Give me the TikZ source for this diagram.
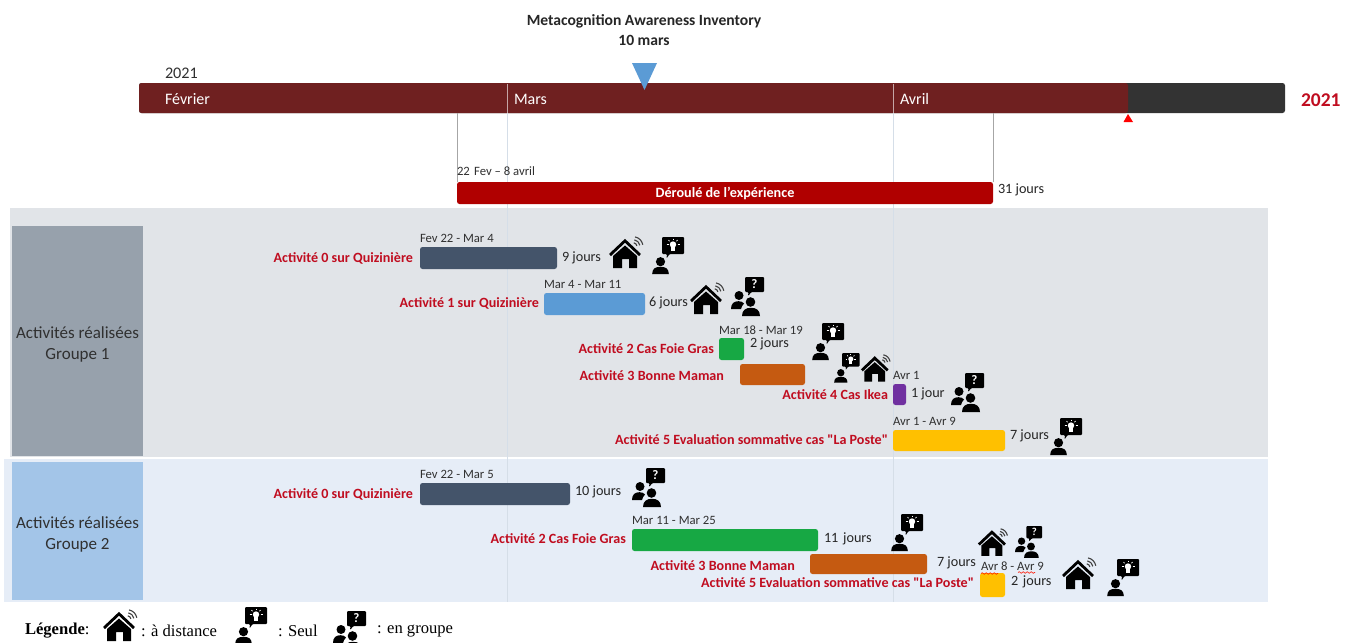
\documentclass[tikz,border=0pt]{standalone}
\usepackage{fontspec}
\setmainfont{Carlito}
\newfontfamily\plainq{Carlito}
\newfontfamily\legendfont{Liberation Serif}
\usetikzlibrary{decorations.pathmorphing}
\definecolor{tlred}{HTML}{6F2020}
\definecolor{tldark}{HTML}{333333}
\definecolor{labred}{HTML}{C00D20}
\definecolor{txtgray}{HTML}{303030}
\definecolor{bandA}{HTML}{E1E4E8}
\definecolor{bandB}{HTML}{E6EDF7}
\definecolor{sideA}{HTML}{97A1AC}
\definecolor{sideB}{HTML}{A3C5E8}
\definecolor{gridline}{HTML}{D5DEE8}
\definecolor{slate}{HTML}{44546A}
\definecolor{skyblue}{HTML}{5B9BD5}
\definecolor{leaf}{HTML}{17A844}
\definecolor{rust}{HTML}{C55A11}
\definecolor{violet}{HTML}{7030A0}
\definecolor{amber}{HTML}{FFC000}
\definecolor{expred}{HTML}{B00000}
\tikzset{
  x=1pt,y=-1pt,
  every node/.style={inner sep=0pt,outer sep=0pt},
  boxshape/.style={rectangle,anchor=north west,draw=none},
  taskbar/.style={boxshape,rounded corners=2.5pt},
  tasklabel/.style={anchor=east,text=labred,font=\fontsize{14.1}{16}\selectfont\bfseries},
  datelabel/.style={anchor=west,text=txtgray,font=\fontsize{12.7}{14}\selectfont},
  durlabel/.style={anchor=west,text=black!85,font=\fontsize{14.2}{16}\selectfont},
  monthlabel/.style={anchor=west,text=white,font=\fontsize{16}{18}\selectfont},
  sidelabel/.style={align=center,text=txtgray,yshift=-3pt,font=\fontsize{17}{21}\selectfont},
  legendtext/.style={anchor=west,font=\legendfont\fontsize{16.6}{18}\selectfont},
  icohouse/.pic={
    \draw[line width=2.8pt,miter limit=10] (1,19) -- (16,4.8) -- (31,19);
    \fill (4,20) -- (16,9.5) -- (28,20) -- (28,32) -- (20,32) -- (20,23) -- (13,23) -- (13,32) -- (4,32) -- cycle;
    \foreach \r in {4,7,10}{
      \draw[line width=1.1pt,black!75] ({24+.2*\r},{10.7-.98*\r}) .. controls ({24+.62*\r},{10.7-.88*\r}) and ({24+.88*\r},{10.7-.62*\r}) .. ({24+.98*\r},{10.7-.2*\r});
    }
  },
  icosolo/.pic={
    \fill[rounded corners=1pt] (10,0) -- (32,0) -- (32,17) -- (17.5,17) -- (14.5,21.5) -- (15,17) -- (10,17) -- cycle;
    \fill[white] (21,7.5) circle (3.2);
    \fill[white] (19.3,10) rectangle (22.7,13.5);
    \foreach \a/\b/\c/\d in {14.5/7.5/16.5/7.5,25.5/7.5/27.5/7.5,21/1.5/21/3,16.5/3/17.6/4.2,25.5/3/24.4/4.2}{
      \draw[white,line width=.7pt] (\a,\b) -- (\c,\d);
    }
    \fill (8.5,24.7) circle (4.6);
    \fill (0.2,37) .. controls (0.2,31.5) and (3.5,29.8) .. (8.5,29.8) .. controls (13.5,29.8) and (16.8,31.5) .. (16.8,37) -- cycle;
  },
  icogroup/.pic={
    \fill[rounded corners=1pt] (14,0) -- (33,0) -- (33,15) -- (20.5,15) -- (17,19) -- (17.5,15) -- (14,15) -- cycle;
    \node[white,transform shape,font=\fontsize{13}{13}\selectfont\bfseries] (q) at (23.5,7.5) {?};
    \fill (8,18.5) circle (4.5);
    \fill (0,32) .. controls (0,26.5) and (3,24.2) .. (7.5,24.2) .. controls (10,24.2) and (12,25) .. (13,26.5) .. controls (11.5,28) and (10.5,30) .. (10,32) -- cycle;
    \fill (19.5,25) circle (4.8);
    \fill (11,39) .. controls (11,33) and (15,30.8) .. (20,30.8) .. controls (25,30.8) and (29,33) .. (29,39) -- cycle;
  }
}
\newcommand{\boxnode}[7]{%
  \pgfmathsetlengthmacro{\bw}{(#5-#3)*1pt}%
  \pgfmathsetlengthmacro{\bh}{(#6-#4)*1pt}%
  \node[#1,fill=#7,minimum width=\bw,minimum height=\bh] (#2) at (#3,#4) {};%
}
\begin{document}
\begin{tikzpicture}
\clip (0,0) rectangle (1353,643);
\fill[white] (0,0) rectangle (1353,643);
% bands
\boxnode{boxshape}{bandone}{10}{208}{1268}{457}{bandA}
\boxnode{boxshape}{bandtwo}{4}{459}{1268}{602}{bandB}
\boxnode{boxshape}{sideone}{12}{226}{143}{456}{sideA}
\boxnode{boxshape}{sidetwo}{12}{462}{143}{600}{sideB}
\node[sidelabel] (sidetxtone) at (sideone.center) {Activités réalisées\\Groupe 1};
\node[sidelabel] (sidetxttwo) at (sidetwo.center) {Activités réalisées\\Groupe 2};
% timeline
\boxnode{taskbar}{barall}{139}{83}{1285}{113}{tldark}
\fill[tlred,rounded corners=2.5pt] (139,83) rectangle (1128,113);
\coordinate (tickmars) at (507,113);
\coordinate (tickavril) at (893,113);
\draw[gridline,line width=.6pt] (tickmars) -- (507,602);
\draw[gridline,line width=.6pt] (tickavril) -- (893,602);
\draw[white!60!tlred,line width=.6pt] (507,84) -- (tickmars);
\draw[white!60!tlred,line width=.6pt] (893,84) -- (tickavril);
\node[monthlabel] (mfev) at (165,99) {Février};
\node[monthlabel] (mmar) at (514,99) {Mars};
\node[monthlabel] (mavr) at (900,99) {Avril};
\node[anchor=west,text=txtgray,font=\fontsize{16.2}{18}\selectfont] (yearleft) at (165,73.5) {2021};
\node[anchor=west,text=labred,font=\fontsize{19.5}{21}\selectfont\bfseries] (yearright) at (1301,100) {2021};
\fill[red] (1128,114) -- (1133,122) -- (1123.5,122) -- cycle;
\fill[skyblue] (632,63) -- (657,63) -- (644.5,90) -- cycle;
\node[font=\fontsize{15.6}{20}\selectfont\bfseries,align=center,text=black!85] (title) at (644,30.5) {Metacognition Awareness Inventory\\10 mars};
% experiment
\boxnode{taskbar}{deroule}{457}{182}{993}{204}{expred}
\node[text=white,font=\fontsize{14.2}{16}\selectfont\bfseries] (derouletxt) at (deroule.center) {Déroulé de l'expérience};
\draw[black!35,line width=.8pt] (deroule.north west) -- (deroule.north west |- barall.south);
\draw[black!35,line width=.8pt] (deroule.north east) -- (deroule.north east |- barall.south);
\node[datelabel] (deroulename) at (457,171) {22\,\,Fev – 8 avril};
\node[durlabel] (dercount) at (998,190) {31 jours};
% group 1
\boxnode{taskbar}{aa}{420}{247}{557}{269}{slate}
\node[tasklabel] (aal) at (413,258) {Activité 0 sur Quizinière};
\node[datelabel] (aad) at (420,238) {Fev 22 - Mar 4};
\node[durlabel] (aaj) at (562,258) {9 jours};
\boxnode{taskbar}{ab}{544}{293}{645}{315}{skyblue}
\node[tasklabel] (abl) at (539,303) {Activité 1 sur Quizinière};
\node[datelabel] (abd) at (544,284) {Mar 4 - Mar 11};
\node[durlabel] (abj) at (649,303) {6 jours};
\boxnode{taskbar}{ac}{719}{338}{744}{360}{leaf}
\node[tasklabel] (acl) at (714,349) {Activité 2 Cas Foie Gras};
\node[datelabel] (acd) at (719,330) {Mar 18 - Mar 19};
\node[durlabel] (acj) at (750,344) {2 jours};
\boxnode{taskbar}{ad}{740}{364}{805}{385}{rust}
\node[tasklabel] (adl) at (724,376) {Activité 3 Bonne Maman};
\boxnode{taskbar}{ae}{893}{384}{906}{405}{violet}
\node[tasklabel] (ael) at (888,395) {Activité 4 Cas Ikea};
\node[datelabel] (aed) at (893,375) {Avr 1};
\node[durlabel] (aej) at (911,394) {1 jour};
\boxnode{taskbar}{af}{893}{430}{1005}{451}{amber}
\node[tasklabel] (afl) at (888,440) {Activité 5 Evaluation sommative cas {\plainq "La Poste"}};
\node[datelabel] (afd) at (893,421) {Avr 1 - Avr 9};
\node[durlabel] (afj) at (1010,436) {7 jours};
% group 2
\boxnode{taskbar}{ba}{420}{483}{570}{505}{slate}
\node[tasklabel] (bal) at (413,494) {Activité 0 sur Quizinière};
\node[datelabel] (bad) at (420,474) {Fev 22 - Mar 5};
\node[durlabel] (baj) at (575,492) {10 jours};
\boxnode{taskbar}{bc}{632}{529}{818}{551}{leaf}
\node[tasklabel] (bcl) at (626,539) {Activité 2 Cas Foie Gras};
\node[datelabel] (bcd) at (632,520) {Mar 11 - Mar 25};
\node[durlabel] (bcj) at (824,539) {11\,\,jours};
\boxnode{taskbar}{bd}{810}{554}{927}{574}{rust}
\node[tasklabel] (bdl) at (795,566) {Activité 3 Bonne Maman};
\node[durlabel] (bdj) at (937,563) {7 jours};
\boxnode{taskbar}{bf}{980}{573}{1005}{597}{amber}
\node[tasklabel] (bfl) at (974,583) {Activité 5 Evaluation sommative cas {\plainq "La Poste"}};
\node[datelabel] (bfd) at (981,566) {Avr 8 - Avr 9};
\node[durlabel] (bfj) at (1011,582) {2\,\,jours};
\draw[red!85!orange,line width=.6pt,decorate,decoration={snake,amplitude=.8pt,segment length=4pt}] (981,573.5) -- (998,573.5);
\draw[red!85!orange,line width=.6pt,decorate,decoration={snake,amplitude=.8pt,segment length=4pt}] (1018,572.5) -- (1035,572.5);
% icons
\pic at (609,236) {icohouse};
\pic at (652,237) {icosolo};
\pic at (690,282) {icohouse};
\pic at (731,277) {icogroup};
\pic at (812,323) {icosolo};
\pic[scale=.8] at (834,353) {icosolo};
\pic[scale=.86] at (861,354) {icohouse};
\pic at (951,373) {icogroup};
\pic at (1050,418) {icosolo};
\pic at (632,468) {icogroup};
\pic at (891,514) {icosolo};
\pic[scale=.87] at (978,528) {icohouse};
\pic[scale=.82] at (1015,526) {icogroup};
\pic at (1062,557) {icohouse};
\pic at (1107,559) {icosolo};
% legend
\node[legendtext] (leg) at (25,631) {\textbf{Légende}:};
\pic at (103,609) {icohouse};
\node[legendtext] (legd) at (141,631) {: à distance};
\pic at (235,607) {icosolo};
\node[legendtext] (legs) at (278,631) {: Seul};
\pic at (333,611) {icogroup};
\node[legendtext] (legg) at (377,631) {: en groupe};
\end{tikzpicture}
\end{document}
